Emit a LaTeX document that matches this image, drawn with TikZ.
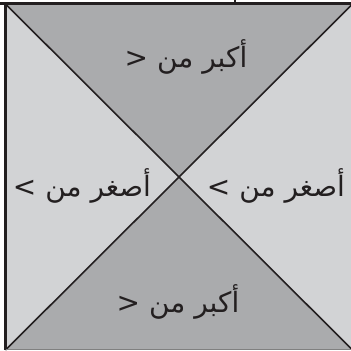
\documentclass[tikz,border=0pt]{standalone}
\usepackage{fontspec}
\newfontfamily\arabicfont[Script=Arabic]{DejaVu Sans}
\TeXXeTstate=1
\definecolor{darkfill}{RGB}{170,171,173}
\definecolor{lightfill}{RGB}{210,211,213}
\definecolor{inkline}{RGB}{35,31,32}

\begin{document}
\begin{tikzpicture}[x=1pt, y=1pt,
    diag/.style={draw=inkline, line width=1.6pt},
    frame/.style={draw=inkline, line width=3pt},
    lbl/.style={font=\arabicfont\fontsize{28}{32}\selectfont, text=inkline, inner sep=0pt}]
    \useasboundingbox (0,0) rectangle (351,351);

    \coordinate (tl) at (5.5,347);
    \coordinate (tr) at (352.5,347);
    \coordinate (bl) at (5.5,1);
    \coordinate (br) at (352.5,1);
    \coordinate (mid) at (179,174);
    \coordinate (edge) at (0,347);
    \coordinate (tick) at (235,351);

    % four triangles
    \fill[darkfill] (tl) -- (mid) -- (tr) -- cycle;
    \fill[darkfill] (bl) -- (mid) -- (br) -- cycle;
    \fill[lightfill] (tl) -- (mid) -- (bl) -- cycle;
    \fill[lightfill] (tr) -- (mid) -- (br) -- cycle;

    \draw[diag] (tl) -- (br);
    \draw[diag] (tr) -- (bl);

    \draw[frame] (edge) -- (tr);
    \draw[frame, line width=2.5pt] (tl) -- (bl);
    \draw[gray, line width=1pt] (bl) -- (br);
    \draw[inkline, line width=2pt] (tick) -- (tick |- tl);

    \node[lbl] (greatertop) at (186,294) {<\ \beginR أكبر من\endR};
    \node[lbl] (greaterbot) at (178,49) {<\ \beginR أكبر من\endR};
    \node[lbl] (lessleft) at (82,165) {>\ \beginR أصغر من\endR};
    \node[lbl] (lessright) at (276,165) {>\ \beginR أصغر من\endR};
\end{tikzpicture}
\end{document}
